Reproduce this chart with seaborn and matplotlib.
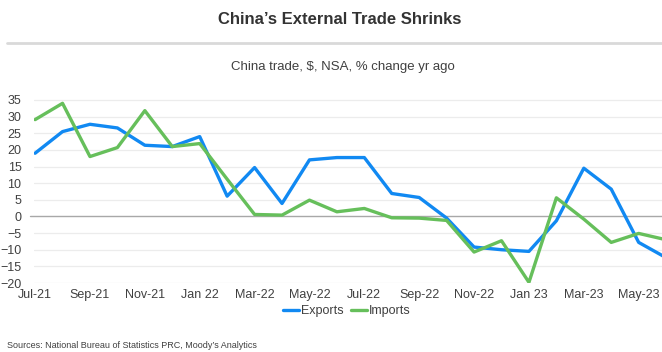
import matplotlib
matplotlib.use("Agg")
import matplotlib.pyplot as plt
from matplotlib.lines import Line2D
import seaborn as sns
import pandas as pd

months = ["Jul-21", "Aug-21", "Sep-21", "Oct-21", "Nov-21", "Dec-21",
          "Jan 22", "Feb-22", "Mar-22", "Apr-22", "May-22", "Jun-22",
          "Jul-22", "Aug-22", "Sep-22", "Oct-22", "Nov-22", "Dec-22",
          "Jan 23", "Feb-23", "Mar-23", "Apr-23", "May-23", "Jun-23"]
exports = [19.0, 25.5, 27.7, 26.6, 21.4, 21.0, 24.0, 6.1, 14.7, 3.9, 17.0, 17.7,
           17.7, 6.9, 5.7, -0.5, -9.2, -10.0, -10.5, -1.3, 14.5, 8.2, -7.8, -12.4]
imports = [29.1, 34.0, 18.0, 20.7, 31.8, 21.0, 21.9, 11.2, 0.6, 0.4, 4.9, 1.4,
           2.4, -0.4, -0.5, -1.2, -10.7, -7.3, -19.8, 5.6, -0.8, -7.8, -5.1, -7.0]
tick_labels = months[::2]
series_names = ["Exports", "Imports"]
colors = {"Exports": "#1189F2", "Imports": "#66BF5B"}

df = pd.DataFrame({
    "idx": list(range(len(months))) * 2,
    "value": exports + imports,
    "series": ["Exports"] * len(months) + ["Imports"] * len(months),
})

sns.set_style("white")
plt.rcParams["font.family"] = ["Liberation Sans", "DejaVu Sans"]

fig = plt.figure(figsize=(6.62, 3.52), dpi=100)
ax = fig.add_axes([34 / 662, 69 / 352, 628 / 662, 188 / 352])

for y in range(-20, 40, 5):
    if y == 0:
        ax.axhline(y, xmin=-0.007, color="#a8a8a8", lw=1.0, zorder=0,
                   clip_on=False)
    else:
        ax.axhline(y, color="#ececec", lw=0.9, zorder=0)

sns.lineplot(data=df, x="idx", y="value", hue="series", palette=colors,
             hue_order=series_names, lw=2.4, ax=ax, legend=False)

ax.set_xlim(-0.04, 22.85)
ax.set_ylim(-20, 36.5)
ax.set_yticks(range(-20, 40, 5))
ax.set_xticks(range(0, len(months), 2))
ax.set_xticklabels(tick_labels)
ax.tick_params(axis="both", length=0, labelsize=9, colors="#404040")
ax.tick_params(axis="y", pad=9)
ax.tick_params(axis="x", pad=4)
ax.set_xlabel("")
ax.set_ylabel("")
for s in ax.spines.values():
    s.set_visible(False)

fig.text(340 / 662, 1 - 20 / 352, "China\u2019s External Trade Shrinks", ha="center",
         va="center", fontsize=12, fontweight="bold", color="#333333")
fig.add_artist(Line2D([7 / 662, 1.0], [1 - 43 / 352, 1 - 43 / 352],
                      color="#d9d9d9", lw=2))
fig.text(343 / 662, 1 - 67 / 352, "China trade, $, NSA, % change yr ago", ha="center",
         va="center", fontsize=9.5, color="#404040")

handles = [Line2D([], [], color=colors[n], lw=2.4) for n in series_names]
fig.legend(handles, series_names, loc="center", ncol=2,
           bbox_to_anchor=(347 / 662, 1 - 311 / 352), frameon=False, fontsize=9,
           handlelength=1.3, handletextpad=0.15, columnspacing=0.6,
           labelcolor="#404040")

fig.text(7 / 662, 1 - 346 / 352,
         "Sources: National Bureau of Statistics PRC, Moody\u2019s Analytics",
         ha="left", va="center", fontsize=6.5, color="#404040")

fig.savefig("out.png", dpi=100)
